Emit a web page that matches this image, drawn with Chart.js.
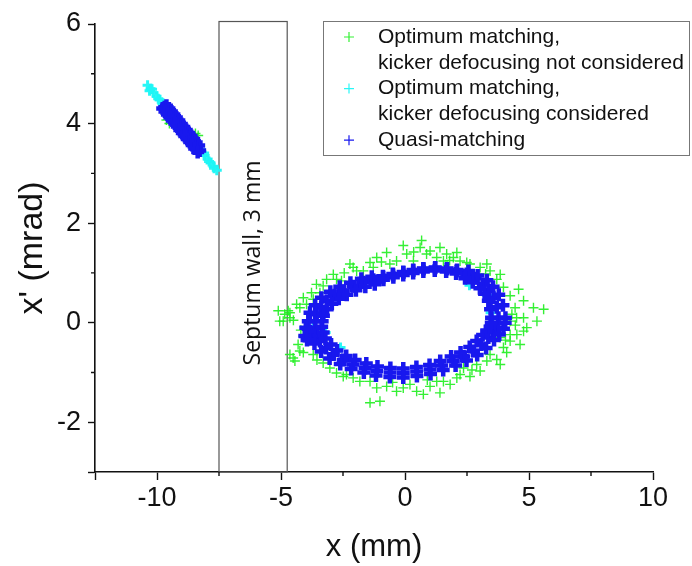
<!DOCTYPE html>
<html>
<head>
<meta charset="utf-8">
<script src="https://cdn.jsdelivr.net/npm/chart.js@4.4.1/dist/chart.umd.min.js"></script>
<style>
  html, body { margin: 0; padding: 0; background: #fff; }
  #wrap { width: 692px; height: 566px; position: relative; }
</style>
</head>
<body>
<div id="wrap"><canvas id="chart" width="692" height="566"></canvas></div>
<script>
// axis ranges and ticks
const xRange = [-12.5, 10];
const yRange = [-3, 6];
const xTicks = [-12.5, -10, -5, 0, 5, 10];
const yTicks = [-3, -2, 0, 2, 4, 6];
const xMinorTicks = [-7.5, -2.5, 2.5, 7.5];
const yMinorTicks = [5, 3, 1, -1];

// septum wall (mm) and its label
const septumLeft = -7.5;
const septumRight = -4.75;
const septumTop = 6.05;
const septumLabel = 'Septum wall, 3 mm';
const septumLabelY = 1.2;

const seriesLabels = [
    ['Optimum matching,', 'kicker defocusing not considered'],
    ['Optimum matching,', 'kicker defocusing considered'],
    ['Quasi-matching'],
];

// optimum matching, kicker defocusing not considered
const greenInjected = [[-9.62, 4.07], [-9.5, 4.0], [-8.34, 3.76], [-8.45, 3.8], [-9.3, 4.2], [-8.9, 3.9], [-9.0, 3.8], [-8.6, 3.75], [-9.65, 4.2]];
const greenRing = [
    [0.67, 1.65], [0.61, 1.51], [-0.07, 1.55], [-0.74, 1.41], [-1.14, 1.31], [-1.41, 1.21], [-2.22, 1.18], [-2.89, 0.97],
    [-3.16, 0.87], [-3.57, 0.77], [-3.77, 0.6], [-3.97, 0.37], [-4.24, 0.3], [-4.64, 0.2], [-5.11, 0.24], [-5.05, 0.03],
    [-4.64, 0.1], [1.01, 1.44], [1.41, 1.51], [1.68, 1.38], [2.09, 1.41], [2.22, 1.24], [2.62, 1.18], [3.3, 1.18],
    [3.43, 1.04], [3.84, 0.97], [3.97, 0.71], [4.58, 0.67], [4.78, 0.44], [5.18, 0.3], [5.59, 0.27], [5.32, 0.03],
    [4.91, -0.1], [4.78, 0.1], [4.51, -0.24], [4.24, -0.37], [4.64, -0.44], [3.97, -0.5], [3.7, -0.74], [3.3, -0.77],
    [2.89, -0.84], [2.62, -1.08], [2.22, -1.04], [1.82, -1.24], [1.41, -1.41], [0.74, -1.44], [0.47, -1.38], [-0.34, -1.38],
    [-1.01, -1.58], [-1.41, -1.61], [-1.14, -1.31], [-2.09, -1.11], [-2.76, -1.01], [-3.03, -0.91], [-3.7, -0.64], [-4.1, -0.6],
    [-4.51, -0.71], [-4.64, -0.64], [-4.31, -0.44], [-4.1, -0.27],
    [-1.95, 1.04], [-2.56, 0.84], [-0.61, 1.18], [0.34, 1.24], [1.55, 1.24], [2.89, 0.97], [3.97, 0.37], [4.24, 0.03],
    [3.84, -0.3], [2.36, -0.91], [1.28, -1.18], [0.2, -1.24], [-1.41, -1.18], [-2.36, -1.04], [-3.97, -0.37], [-3.57, -0.17],
    [-1.68, 1.04], [-1.28, 1.11], [-2.09, 1.11], [-2.76, 0.87], [-3.3, 0.74], [-3.43, 0.6], [-3.7, 0.47], [-4.1, 0.5],
    [-4.37, 0.37], [-4.85, 0.17], [-4.91, 0.03], [-4.71, 0.24], [-0.34, 1.24], [0.07, 1.38], [0.87, 1.38], [1.28, 1.31],
    [1.95, 1.31], [2.49, 1.21], [3.03, 1.11], [3.7, 0.87], [4.24, 0.54], [4.44, 0.3], [4.31, 0.17], [4.78, -0.17],
    [4.24, -0.24], [4.1, -0.6], [3.43, -0.64], [3.84, -0.84], [3.03, -0.97], [2.09, -1.11], [1.55, -1.18], [1.01, -1.28],
    [-0.07, -1.31], [-0.74, -1.28], [-1.82, -1.18], [-2.49, -1.08], [-3.3, -0.81], [-4.24, -0.57], [-4.44, -0.77],
    [-0.95, 1.22], [-2.45, 1.0], [0.35, 1.42], [1.8, 1.25], [3.25, 0.98], [4.5, 0.1], [4.45, -0.05], [4.05, -0.35],
    [2.7, -0.95], [0.9, -1.15], [-0.5, -1.2], [-3.55, -0.75], [-4.2, -0.15], [-4.5, 0.05],
];

// optimum matching, kicker defocusing considered
const cyanInjected = [
    [-10.38, 4.77], [-10.26, 4.7], [-10.14, 4.62], [-10.02, 4.55], [-9.9, 4.48], [-9.78, 4.4], [-9.66, 4.33], [-9.4, 4.17],
    [-9.15, 4.02], [-8.9, 3.86], [-8.65, 3.71], [-8.4, 3.56], [-8.2, 3.43], [-8.08, 3.36], [-7.96, 3.29], [-7.84, 3.21],
    [-7.72, 3.14], [-7.59, 3.06], [-10.3, 4.66], [-10.2, 4.69], [-9.95, 4.5], [-8.1, 3.41], [-7.9, 3.24], [-7.7, 3.1],
];
const cyanRing = [[-3.3, 0.2], [-3.2, -0.2], [3.3, 0.55], [3.45, 0.2], [-3.7, -0.1], [2.6, 0.75], [-2.6, -0.5]];

// quasi-matching
const blueInjected = [
    [-9.69, 4.33], [-9.6, 4.27], [-9.5, 4.21], [-9.4, 4.15], [-9.3, 4.09], [-9.2, 4.03], [-9.1, 3.97], [-9.0, 3.9],
    [-8.9, 3.84], [-8.8, 3.78], [-8.7, 3.72], [-8.6, 3.66], [-8.5, 3.6], [-8.4, 3.53], [-8.28, 3.46],
    [-9.62, 4.36], [-9.52, 4.3], [-9.42, 4.24], [-9.32, 4.18], [-9.22, 4.12], [-9.12, 4.06], [-9.02, 3.99], [-8.92, 3.93],
    [-8.82, 3.87], [-8.72, 3.81], [-8.62, 3.75], [-8.52, 3.69], [-8.42, 3.62], [-8.32, 3.56],
    [-9.77, 4.3], [-9.68, 4.24], [-9.58, 4.18], [-9.48, 4.12], [-9.38, 4.06], [-9.28, 4.0], [-9.18, 3.94], [-9.08, 3.87],
    [-8.98, 3.81], [-8.88, 3.75], [-8.78, 3.69], [-8.68, 3.63], [-8.58, 3.57], [-8.48, 3.5], [-8.36, 3.43],
];
const blueRing = [
    // band centre
    [3.77, 0.1], [3.7, 0.31], [3.57, 0.5], [3.38, 0.65], [3.16, 0.77], [2.83, 0.89], [2.49, 0.98], [2.08, 1.04],
    [1.68, 1.08], [1.21, 1.1], [0.74, 1.08], [0.33, 1.05], [-0.07, 1.01], [-0.48, 0.96], [-0.88, 0.91], [-1.28, 0.86],
    [-1.68, 0.81], [-2.09, 0.73], [-2.49, 0.64], [-2.84, 0.55], [-3.16, 0.44], [-3.38, 0.31], [-3.56, 0.17], [-3.62, 0.03],
    [-3.63, -0.1], [-3.55, -0.24], [-3.43, -0.37], [-3.18, -0.51], [-2.89, -0.64], [-2.49, -0.75], [-2.09, -0.84], [-1.61, -0.91],
    [-1.14, -0.97], [-0.6, -1.0], [-0.07, -1.01], [0.47, -0.98], [1.01, -0.94], [1.48, -0.86], [1.95, -0.77], [2.36, -0.68],
    [2.76, -0.57], [3.08, -0.44], [3.36, -0.3], [3.55, -0.2], [3.7, -0.1], [3.76, 0.0],
    // band outer edge
    [4.05, 0.1], [3.95, 0.35], [3.78, 0.56], [3.55, 0.72], [3.3, 0.85], [2.93, 0.95], [2.56, 1.04], [2.1, 1.06],
    [1.7, 1.09], [1.22, 1.11], [0.74, 1.09], [0.33, 1.06], [-0.07, 1.02], [-0.49, 0.98], [-0.89, 0.93], [-1.34, 0.92],
    [-1.76, 0.88], [-2.2, 0.8], [-2.63, 0.72], [-3.01, 0.62], [-3.37, 0.5], [-3.62, 0.35], [-3.83, 0.2], [-3.9, 0.03],
    [-3.9, -0.12], [-3.8, -0.28], [-3.65, -0.42], [-3.38, -0.58], [-3.04, -0.72], [-2.61, -0.83], [-2.17, -0.93], [-1.66, -1.0],
    [-1.17, -1.06], [-0.61, -1.09], [-0.07, -1.1], [0.48, -1.07], [1.03, -1.03], [1.54, -0.95], [2.04, -0.86], [2.48, -0.76],
    [2.91, -0.65], [3.27, -0.51], [3.59, -0.35], [3.8, -0.24], [3.97, -0.12], [4.04, 0.0],
    // band inner edge
    [3.49, 0.1], [3.45, 0.27], [3.36, 0.44], [3.21, 0.58], [3.02, 0.69], [2.73, 0.81], [2.42, 0.89], [2.06, 0.99],
    [1.66, 1.03], [1.2, 1.05], [0.74, 1.03], [0.33, 1.0], [-0.07, 0.96], [-0.47, 0.91], [-0.87, 0.86], [-1.22, 0.77],
    [-1.6, 0.72], [-1.98, 0.65], [-2.35, 0.56], [-2.67, 0.48], [-2.95, 0.38], [-3.14, 0.27], [-3.29, 0.14], [-3.34, 0.03],
    [-3.36, -0.08], [-3.3, -0.2], [-3.21, -0.32], [-2.98, -0.44], [-2.74, -0.56], [-2.37, -0.67], [-2.01, -0.75], [-1.56, -0.82],
    [-1.11, -0.88], [-0.59, -0.91], [-0.07, -0.92], [0.46, -0.89], [0.99, -0.85], [1.42, -0.77], [1.86, -0.68], [2.24, -0.6],
    [2.61, -0.49], [2.89, -0.37], [3.13, -0.25], [3.3, -0.16], [3.43, -0.08], [3.48, 0.0],
    // tail towards the septum
    [-3.84, -0.17], [-4.04, -0.27], [-3.95, -0.35], [-4.0, -0.1],
];

const greenColor = 'rgba(30, 238, 30, 0.9)';
const cyanColor = 'rgba(30, 245, 245, 0.95)';
const blueColor = 'rgb(24, 24, 238)';

const toPoints = (list) => list.map(([x, y]) => ({ x, y }));

const septumPlugin = {
    id: 'septum',
    beforeDatasetsDraw(chart) {
        const { ctx, scales: { x, y } } = chart;
        const left = x.getPixelForValue(septumLeft);
        const right = x.getPixelForValue(septumRight);
        const top = y.getPixelForValue(septumTop);
        const bottom = y.getPixelForValue(yRange[0]);
        ctx.save();
        ctx.strokeStyle = '#555';
        ctx.lineWidth = 1.2;
        ctx.strokeRect(left, top, right - left, bottom - top);
        ctx.translate((left + right) / 2, y.getPixelForValue(septumLabelY));
        ctx.rotate(-Math.PI / 2);
        ctx.font = '23px "Open Sans"';
        ctx.textAlign = 'center';
        ctx.textBaseline = 'middle';
        ctx.fillStyle = '#111';
        ctx.fillText(septumLabel, 0, 0);
        ctx.restore();
    },
};

const minorTicksPlugin = {
    id: 'minorTicks',
    afterDraw(chart) {
        const { ctx, scales: { x, y } } = chart;
        ctx.save();
        ctx.strokeStyle = '#111';
        ctx.lineWidth = 1.4;
        ctx.beginPath();
        xMinorTicks.forEach((value) => {
            const px = x.getPixelForValue(value);
            ctx.moveTo(px, x.top);
            ctx.lineTo(px, x.top + 4);
        });
        yMinorTicks.forEach((value) => {
            const py = y.getPixelForValue(value);
            ctx.moveTo(y.right, py);
            ctx.lineTo(y.right - 4, py);
        });
        ctx.stroke();
        ctx.restore();
    },
};

const legendPlugin = {
    id: 'boxLegend',
    afterDraw(chart) {
        const ctx = chart.ctx;
        const box = { left: 323, top: 21, right: 689, bottom: 155 };
        const lineHeight = 25.8;
        ctx.save();
        ctx.strokeStyle = '#777';
        ctx.lineWidth = 1;
        ctx.strokeRect(box.left + 0.5, box.top + 0.5, box.right - box.left, box.bottom - box.top);
        ctx.font = '21px "Liberation Sans", Arial, sans-serif';
        ctx.textBaseline = 'middle';
        ctx.fillStyle = '#111';
        let rowY = 37;
        chart.data.datasets.forEach((dataset) => {
            ctx.strokeStyle = dataset.borderColor;
            ctx.lineWidth = 1.2;
            ctx.beginPath();
            ctx.moveTo(344, rowY);
            ctx.lineTo(354, rowY);
            ctx.moveTo(349, rowY - 5);
            ctx.lineTo(349, rowY + 5);
            ctx.stroke();
            dataset.label.forEach((line) => {
                ctx.fillText(line, 378, rowY);
                rowY += lineHeight;
            });
        });
        ctx.restore();
    },
};

const fontFamily = '"Liberation Sans", Arial, sans-serif';

new Chart(document.getElementById('chart'), {
    type: 'scatter',
    data: {
        datasets: [
            { label: seriesLabels[0], data: toPoints(greenInjected.concat(greenRing)), borderColor: greenColor, backgroundColor: greenColor, pointStyle: 'cross', pointRadius: 5, borderWidth: 1.4, order: 2 },
            { label: seriesLabels[1], data: toPoints(cyanInjected.concat(cyanRing)), borderColor: cyanColor, backgroundColor: cyanColor, pointStyle: 'cross', pointRadius: 5, borderWidth: 3, order: 1 },
            { label: seriesLabels[2], data: toPoints(blueInjected.concat(blueRing)), borderColor: blueColor, backgroundColor: blueColor, pointStyle: 'cross', pointRadius: 6.5, borderWidth: 4.5, order: 0 },
        ],
    },
    options: {
        responsive: false,
        animation: false,
        events: [],
        layout: { padding: { top: 24, right: 39, left: 0, bottom: 0 } },
        plugins: { legend: { display: false }, tooltip: { enabled: false } },
        scales: {
            x: {
                type: 'linear',
                min: xRange[0],
                max: xRange[1],
                afterBuildTicks(scale) { scale.ticks = xTicks.map((value) => ({ value })); },
                border: { display: true, color: '#111', width: 1.6 },
                grid: { drawOnChartArea: false, drawTicks: true, tickLength: 8, tickColor: '#111', tickWidth: 1.4 },
                ticks: { autoSkip: false, color: '#111', font: { family: fontFamily, size: 27 }, padding: 2, maxRotation: 0, callback: (v) => (v === xRange[0] ? '' : v) },
                title: { display: true, text: 'x (mm)', color: '#111', font: { family: fontFamily, size: 31 }, padding: { top: 0, bottom: 0 } },
                afterFit(scale) { scale.height = 94; },
            },
            y: {
                type: 'linear',
                min: yRange[0],
                max: yRange[1],
                afterBuildTicks(scale) { scale.ticks = yTicks.map((value) => ({ value })); },
                border: { display: true, color: '#111', width: 1.6 },
                grid: { drawOnChartArea: false, drawTicks: true, tickLength: 7, tickColor: '#111', tickWidth: 1.4 },
                ticks: { autoSkip: false, color: '#111', font: { family: fontFamily, size: 27 }, padding: 7, callback: (v) => (v === yRange[0] ? '' : v) },
                title: { display: true, text: "x' (mrad)", color: '#111', font: { family: fontFamily, size: 34 }, padding: { top: 12, bottom: 0 } },
                afterFit(scale) { scale.width = 95; },
            },
        },
    },
    plugins: [septumPlugin, minorTicksPlugin, legendPlugin],
});
</script>
</body>
</html>
